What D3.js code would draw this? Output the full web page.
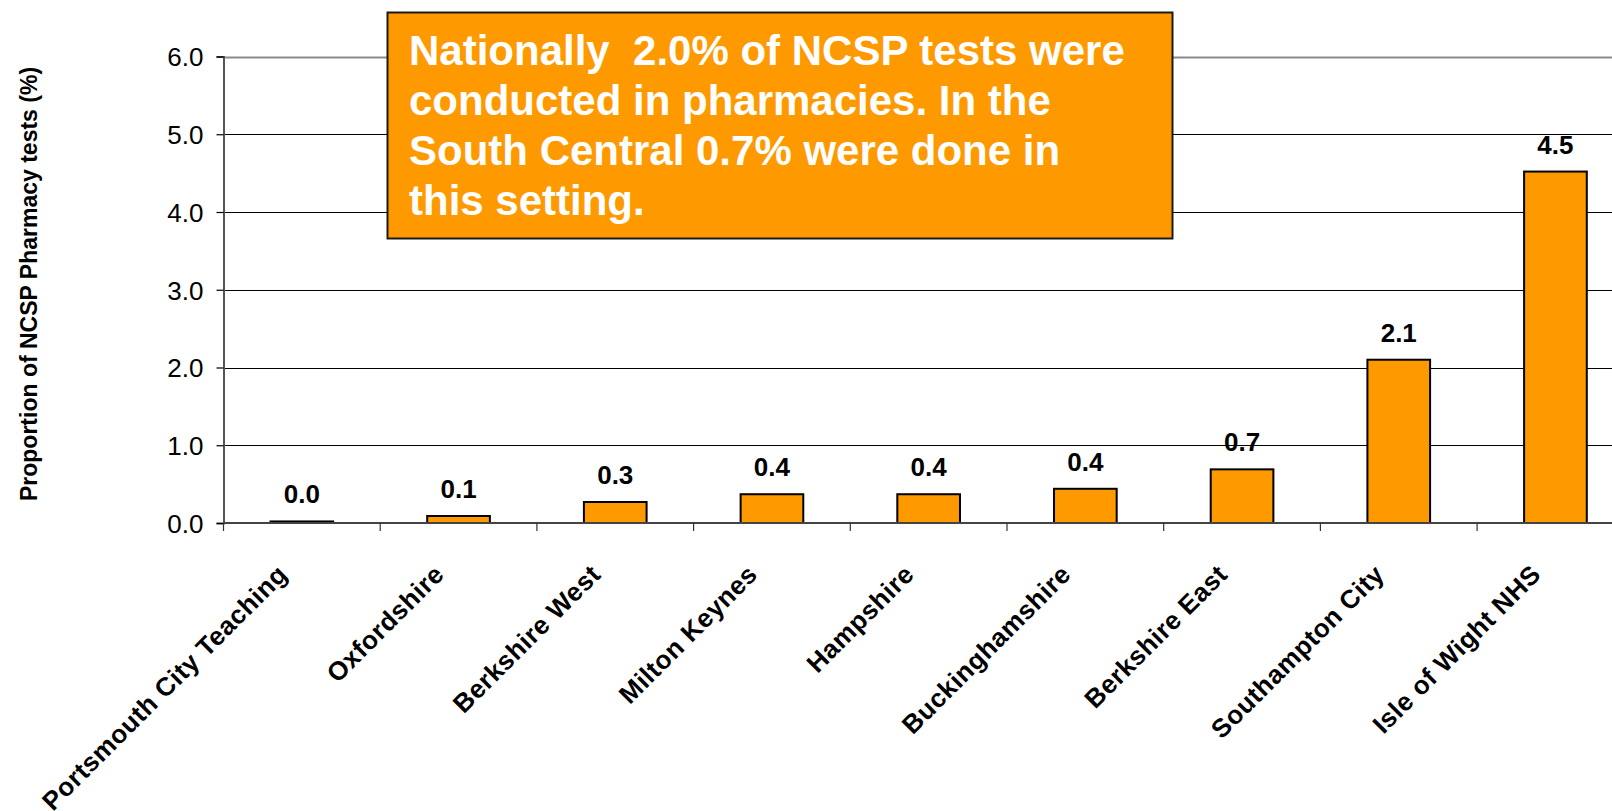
<!DOCTYPE html>
<html>
<head>
<meta charset="utf-8">
<script src="https://cdn.jsdelivr.net/npm/d3@7/dist/d3.min.js"></script>
<style>
  html, body { margin: 0; padding: 0; background: #fff; }
  svg { display: block; font-family: "Liberation Sans", Arial, Helvetica, sans-serif; }
</style>
</head>
<body>
<svg id="chart" width="1612" height="811"></svg>
<script>
// ---- data ----
const categories = ["Portsmouth City Teaching", "Oxfordshire", "Berkshire West", "Milton Keynes",
  "Hampshire", "Buckinghamshire", "Berkshire East", "Southampton City", "Isle of Wight NHS"];
const values = [0.02, 0.09, 0.27, 0.37, 0.37, 0.44, 0.69, 2.10, 4.52];
const yTicks = [0, 1, 2, 3, 4, 5, 6];
const yTitle = "Proportion of NCSP Pharmacy tests (%)";
const noteLines = ["Nationally  2.0% of NCSP tests were", "conducted in pharmacies. In the",
  "South Central 0.7% were done in", "this setting."];

// ---- layout ----
const W = 1612, H = 811;
const plotLeft = 223.5, plotTop = 56.5, plotBottom = 523;
const step = 156.7;
const svg = d3.select("#chart");

const y = d3.scaleLinear().domain([0, 6]).range([plotBottom, plotTop]);
const x = d3.scaleBand().domain(categories)
  .range([plotLeft, plotLeft + step * categories.length])
  .paddingInner(0.6).paddingOuter(0.3);

// gridlines
svg.append("g").selectAll("line").data(yTicks.filter(d => d > 0)).join("line")
  .attr("x1", plotLeft).attr("x2", W)
  .attr("y1", d => Math.round(y(d)) + 0.5).attr("y2", d => Math.round(y(d)) + 0.5)
  .attr("stroke", d => d === 6 ? "#8a8a8a" : "#000")
  .attr("stroke-width", d => d === 6 ? 2 : 1.2);

// y axis
const yAxis = svg.append("g").attr("transform", `translate(${plotLeft},0)`)
  .call(d3.axisLeft(y).tickValues(yTicks).tickFormat(d3.format(".1f")).tickSize(7).tickPadding(13));
yAxis.select(".domain").attr("stroke", "#555").attr("stroke-width", 2);
yAxis.selectAll(".tick line").attr("stroke", "#000").attr("stroke-width", 1.2);
yAxis.selectAll(".tick text").attr("font-size", 26).attr("fill", "#000")
  .attr("font-family", "'Liberation Sans', Arial, sans-serif").attr("dy", "0.36em");

// y title
svg.append("text")
  .attr("transform", `translate(37,284) rotate(-90)`)
  .attr("text-anchor", "middle")
  .attr("font-size", 23).attr("font-weight", "bold").attr("fill", "#000")
  .text(yTitle);

// bars
svg.append("g").selectAll("rect").data(categories).join("rect")
  .attr("x", d => x(d))
  .attr("y", (d, i) => y(values[i]))
  .attr("width", x.bandwidth())
  .attr("height", (d, i) => y(0) - y(values[i]))
  .attr("fill", "#FF9900")
  .attr("stroke", "#000").attr("stroke-width", 2);

// x baseline
svg.append("line").attr("x1", plotLeft).attr("x2", W)
  .attr("y1", y(0)).attr("y2", y(0))
  .attr("stroke", "#444").attr("stroke-width", 2);

// x ticks at category boundaries
const bounds = categories.map(c => x(c) - x.step() * x.paddingInner() / 2);
svg.append("g").selectAll("line").data(bounds).join("line")
  .attr("x1", d => d).attr("x2", d => d)
  .attr("y1", y(0)).attr("y2", y(0) + 8)
  .attr("stroke", "#333").attr("stroke-width", 1.2);

// data labels
svg.append("g").selectAll("text").data(categories).join("text")
  .attr("x", d => x(d) + x.bandwidth() / 2)
  .attr("y", (d, i) => y(values[i]) - 18)
  .attr("text-anchor", "middle")
  .attr("font-size", 26).attr("font-weight", "bold")
  .attr("fill", "#000")
  .text((d, i) => d3.format(".1f")(values[i]));

// category labels
svg.append("g").selectAll("text").data(categories).join("text")
  .attr("transform", d => `translate(${x(d) + x.bandwidth() / 2 - 13},576) rotate(-45)`)
  .attr("text-anchor", "end")
  .attr("font-size", 26).attr("font-weight", "bold").attr("letter-spacing", "0.5px")
  .attr("fill", "#000")
  .text(d => d);

// annotation box
const box = svg.append("g");
box.append("rect").attr("x", 387.5).attr("y", 12.5).attr("width", 785).attr("height", 226)
  .attr("fill", "#FF9900").attr("stroke", "#1a1a1a").attr("stroke-width", 2);
box.selectAll("text").data(noteLines).join("text")
  .attr("x", 409).attr("y", (d, i) => 65 + i * 50)
  .attr("font-size", 42).attr("font-weight", "bold").attr("fill", "#fff")
  .attr("xml:space", "preserve").style("white-space", "pre")
  .text(d => d);
</script>
</body>
</html>
